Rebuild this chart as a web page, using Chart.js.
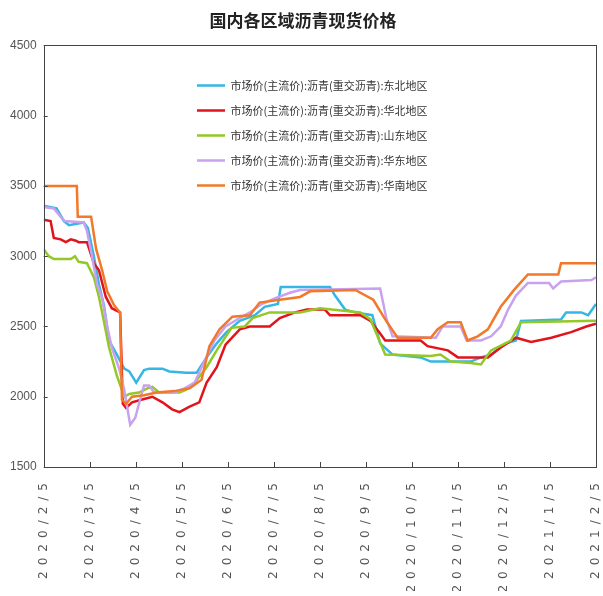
<!DOCTYPE html>
<html>
<head>
<meta charset="utf-8">
<script src="https://cdn.jsdelivr.net/npm/chart.js@4/dist/chart.umd.min.js"></script>
<style>
  html, body { margin: 0; padding: 0; background: #fff; }
  canvas { display: block; }
</style>
</head>
<body>
<canvas id="priceChart" width="603" height="596"></canvas>
<script>
// Etiquetas del eje X (un tick por mes)
const monthLabels = ["2020/2/5", "2020/3/5", "2020/4/5", "2020/5/5", "2020/6/5", "2020/7/5",
  "2020/8/5", "2020/9/5", "2020/10/5", "2020/11/5", "2020/12/5", "2021/1/5", "2021/2/5"];

const seriesNames = [
  "市场价(主流价):沥青(重交沥青):东北地区",
  "市场价(主流价):沥青(重交沥青):华北地区",
  "市场价(主流价):沥青(重交沥青):山东地区",
  "市场价(主流价):沥青(重交沥青):华东地区",
  "市场价(主流价):沥青(重交沥青):华南地区"
];

// [mes desde 2020/2/5, precio]
const dongbei = [[0,3360],[0.28,3340],[0.44,3250],[0.55,3220],[0.87,3240],[0.96,3200],[1.09,3000],[1.2,2800],
  [1.31,2650],[1.42,2400],[1.59,2300],[1.75,2200],[1.86,2180],[2.01,2100],[2.18,2190],[2.29,2200],[2.58,2200],
  [2.73,2180],[3.1,2170],[3.32,2170],[3.54,2280],[3.76,2380],[3.97,2460],[4.26,2540],[4.59,2580],[4.8,2640],
  [5.09,2660],[5.15,2780],[6.22,2780],[6.33,2720],[6.55,2620],[6.77,2600],[7.14,2580],[7.31,2380],[7.58,2300],
  [8.19,2280],[8.41,2250],[9.28,2250],[9.5,2280],[9.72,2300],[10.04,2380],[10.26,2400],[10.37,2540],
  [11.24,2550],[11.35,2600],[11.68,2600],[11.83,2580],[12,2660]];

const huabei = [[0,3260],[0.15,3250],[0.22,3130],[0.37,3120],[0.48,3100],[0.59,3120],[0.7,3110],[0.76,3100],
  [0.94,3100],[1.09,2950],[1.2,2900],[1.35,2710],[1.48,2630],[1.66,2600],[1.72,1950],[1.79,1920],[1.92,1960],
  [2.14,1980],[2.36,2000],[2.58,1960],[2.79,1910],[2.95,1890],[3.17,1930],[3.38,1960],[3.54,2100],[3.76,2210],
  [3.95,2370],[4.26,2480],[4.48,2500],[4.91,2500],[5.13,2560],[5.46,2600],[5.72,2620],[6.11,2620],[6.22,2580],
  [6.88,2580],[7.1,2540],[7.31,2450],[7.42,2400],[8.19,2400],[8.34,2360],[8.78,2330],[9,2280],[9.65,2280],
  [9.93,2350],[10.26,2420],[10.59,2390],[11.03,2420],[11.46,2460],[11.79,2500],[12,2520]];

const shandong = [[0,3050],[0.11,3000],[0.22,2980],[0.59,2980],[0.68,3000],[0.76,2960],[0.94,2950],[1.09,2850],
  [1.2,2710],[1.27,2600],[1.42,2350],[1.59,2150],[1.75,2000],[1.86,2020],[2.07,2030],[2.25,2060],[2.36,2070],
  [2.51,2030],[2.95,2030],[3.1,2050],[3.28,2100],[3.54,2210],[3.76,2330],[4.08,2490],[4.37,2500],[4.54,2560],
  [4.91,2600],[5.57,2600],[6,2630],[6.88,2600],[7.1,2550],[7.42,2300],[8.41,2290],[8.62,2300],[8.84,2250],
  [9.28,2240],[9.5,2230],[9.72,2330],[10.15,2400],[10.37,2530],[12,2540]];

const huadong = [[0,3350],[0.22,3340],[0.37,3280],[0.46,3250],[0.87,3240],[0.94,3180],[1.05,3000],[1.16,2800],
  [1.27,2700],[1.38,2500],[1.48,2350],[1.64,2200],[1.75,2050],[1.88,1800],[1.99,1850],[2.07,1950],[2.18,2080],
  [2.29,2080],[2.4,2030],[2.84,2030],[3.06,2060],[3.28,2100],[3.49,2250],[3.71,2400],[3.95,2500],[4.26,2560],
  [4.48,2600],[4.74,2660],[5.02,2700],[5.35,2740],[5.57,2760],[7.31,2770],[7.45,2550],[7.58,2430],[8.52,2420],
  [8.67,2500],[9.06,2500],[9.19,2400],[9.5,2400],[9.72,2430],[9.93,2500],[10.09,2620],[10.26,2720],[10.52,2810],
  [10.98,2810],[11.07,2770],[11.24,2820],[11.9,2830],[12,2850]];

const huanan = [[0,3500],[0.72,3500],[0.74,3280],[1.03,3280],[1.14,3050],[1.27,2900],[1.38,2750],[1.53,2650],
  [1.66,2600],[1.7,1980],[1.79,1950],[1.92,2000],[2.18,2010],[2.45,2030],[2.84,2040],[3.17,2060],[3.43,2120],
  [3.6,2360],[3.82,2480],[4.1,2570],[4.48,2580],[4.69,2670],[5.13,2690],[5.57,2710],[5.79,2750],[6.77,2760],
  [7.16,2690],[7.42,2550],[7.69,2420],[8.41,2420],[8.56,2480],[8.78,2530],[9.06,2530],[9.21,2400],[9.43,2430],
  [9.65,2480],[9.93,2640],[10.22,2760],[10.52,2870],[11.18,2870],[11.24,2950],[12,2950]];

const allSeries = [dongbei, huabei, shandong, huadong, huanan];
const lineColors = ["#35b6e4", "#e0141c", "#94c826", "#c8a2ee", "#f2782a"];

Chart.defaults.font.family = "'Noto Sans CJK SC', 'Noto Sans', sans-serif";

// Marco del área de trazado y ticks hacia dentro
const framePlugin = {
  id: "frame",
  afterDatasetsDraw(chart) {
    const { ctx, chartArea: a, scales: { x, y } } = chart;
    ctx.save();
    ctx.strokeStyle = "#444";
    ctx.lineWidth = 1;
    ctx.strokeRect(Math.round(a.left) + 0.5, Math.round(a.top) + 0.5, Math.round(a.width), Math.round(a.height));
    ctx.beginPath();
    y.ticks.forEach(t => {
      const py = Math.round(y.getPixelForValue(t.value)) + 0.5;
      ctx.moveTo(a.left, py);
      ctx.lineTo(a.left + 4, py);
    });
    x.ticks.forEach(t => {
      const px = Math.round(x.getPixelForValue(t.value)) + 0.5;
      ctx.moveTo(px, a.bottom);
      ctx.lineTo(px, a.bottom - 5);
    });
    ctx.stroke();
    ctx.restore();
  }
};

// Leyenda dentro del gráfico y etiquetas X espaciadas
const layoutPlugin = {
  id: "tweaks",
  afterLayout(chart) {
    const lg = chart.legend;
    lg.left = 183;
    lg.top = 66;
    lg.width = 320;
    lg.height = 200;
    lg.right = lg.left + lg.width;
    lg.bottom = lg.top + lg.height;
    const sx = chart.scales.x;
    if (!sx._spaced) {
      const orig = sx.drawLabels;
      sx.drawLabels = function (area) {
        const c = this.ctx;
        c.save();
        c.letterSpacing = "6px";
        orig.call(this, area);
        c.restore();
      };
      sx._spaced = true;
    }
  }
};

new Chart(document.getElementById("priceChart"), {
  type: "line",
  data: {
    datasets: allSeries.map((s, i) => ({
      label: seriesNames[i],
      data: s.map(p => ({ x: p[0], y: p[1] })),
      borderColor: lineColors[i],
      backgroundColor: lineColors[i],
      borderWidth: 2.5,
      pointRadius: 0,
      tension: 0,
      order: allSeries.length - i
    }))
  },
  options: {
    responsive: false,
    animation: false,
    devicePixelRatio: 1,
    layout: { padding: { left: 3, right: 0, top: 0, bottom: 5 } },
    plugins: {
      title: {
        display: true,
        text: "国内各区域沥青现货价格",
        color: "#222",
        font: { size: 17, weight: "bold" },
        padding: { top: 10, bottom: 15 }
      },
      legend: {
        position: "chartArea",
        align: "start",
        labels: {
          usePointStyle: true,
          pointStyle: "line",
          pointStyleWidth: 28,
          padding: 14,
          color: "#333",
          font: { size: 11 },
          sort: (a, b) => a.datasetIndex - b.datasetIndex
        }
      },
      tooltip: { enabled: false }
    },
    scales: {
      x: {
        type: "linear",
        min: 0,
        max: 12,
        grid: { display: false },
        border: { display: false },
        afterFit: s => { s.paddingRight = 7; s.paddingLeft = 0; s.height = 124; },
        ticks: {
          stepSize: 1,
          autoSkip: false,
          maxRotation: 90,
          minRotation: 90,
          padding: 2,
          color: "#555",
          font: { size: 12, family: "'DejaVu Sans', sans-serif" },
          callback: v => monthLabels[v]
        }
      },
      y: {
        min: 1500,
        max: 4500,
        grid: { display: false, drawTicks: false },
        border: { display: false },
        ticks: {
          stepSize: 500,
          padding: 7,
          color: "#555",
          font: { size: 12, family: "'Liberation Sans', sans-serif" },
          callback: v => String(v)
        }
      }
    }
  },
  plugins: [framePlugin, layoutPlugin]
});
</script>
</body>
</html>
